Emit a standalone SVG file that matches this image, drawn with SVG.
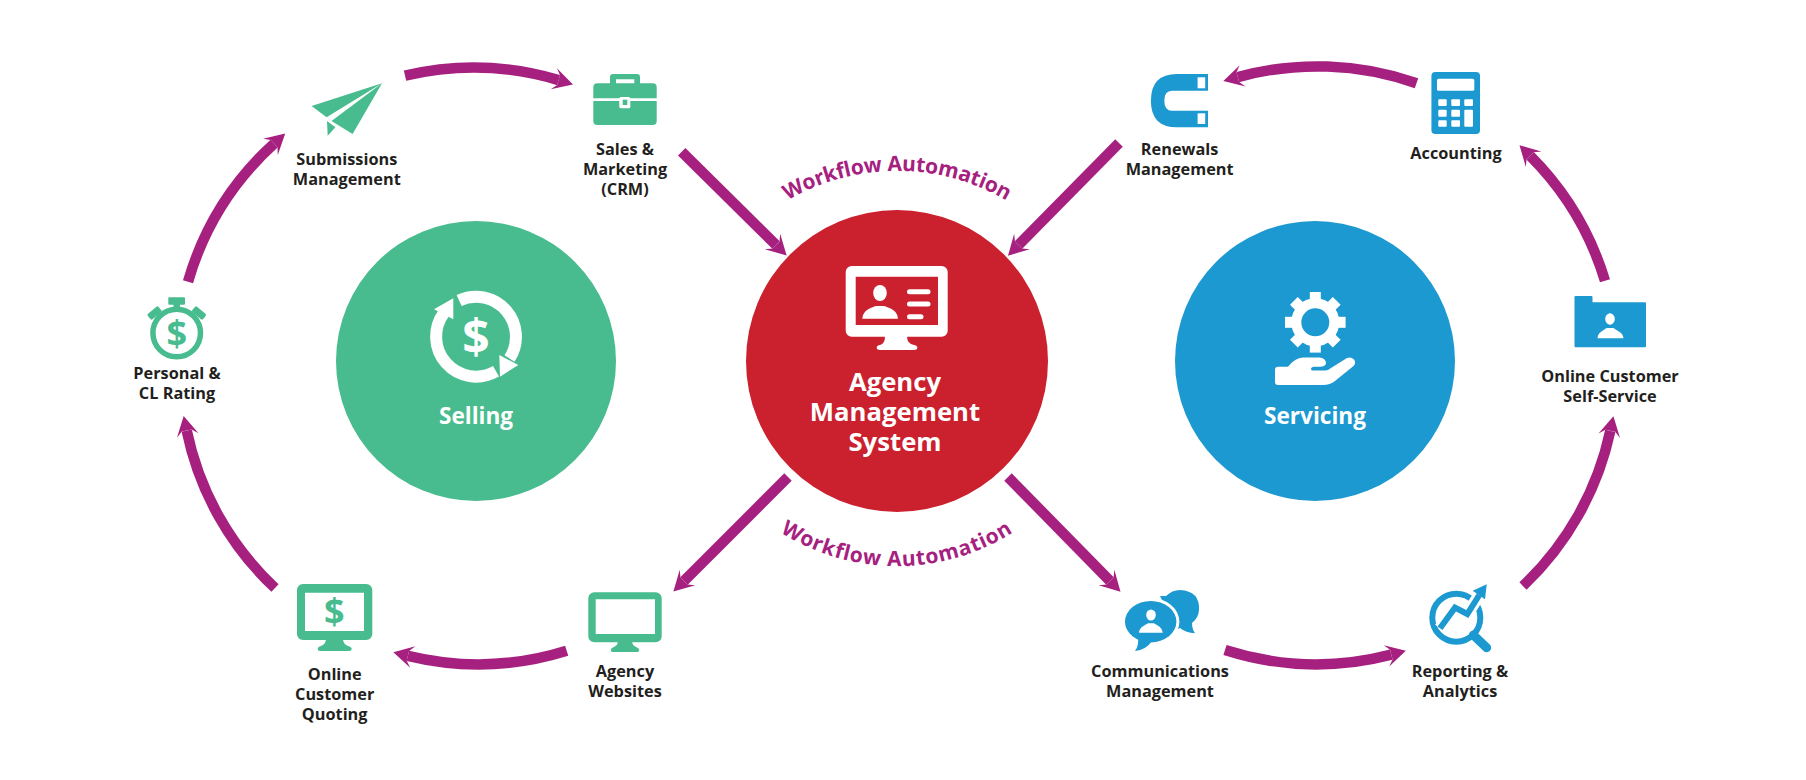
<svg xmlns="http://www.w3.org/2000/svg" width="1806" height="780" viewBox="0 0 1806 780">
<style>
text{font-family:"Open Sans","Noto Sans","Liberation Sans",sans-serif;font-weight:700}
.lb{font-size:16.300px;fill:#231f20;text-anchor:middle}
.big{fill:#fff;text-anchor:middle}
.wf{font-size:21px;fill:#a6217f;font-weight:700}
.arr{fill:none;stroke:#a6217f;stroke-width:10.500;marker-end:url(#head)}
.g{fill:#48bc8e}.b{fill:#1c99d0}.w{fill:#fff}
.dlr{text-anchor:middle}
</style>
<defs>
<marker id="head" markerUnits="userSpaceOnUse" markerWidth="26" markerHeight="26" refX="5" refY="12" orient="auto" overflow="visible">
<path d="M20 12 L0 1 L5 7 V17 L0 23 Z" fill="#a6217f"/>
</marker>
<path id="wf-top" d="M727 253 A217 217 0 0 1 1067 253"/>
<path id="wf-bot" d="M727 484 A217 217 0 0 0 1067 484"/>
</defs>
<rect width="1806" height="780" fill="#fff"/>

<g id="connectors">
<path class="arr" d="M188 281.700 A298 298 0 0 1 274.100 143.600"/>
<path class="arr" d="M405 75.700 A298 298 0 0 1 558.600 80.100"/>
<path class="arr" d="M681.700 151.700 L776 245"/>
<path class="arr" d="M1119 143 L1018.500 245"/>
<path class="arr" d="M1416.500 83.300 A300 300 0 0 0 1237.800 77.100"/>
<path class="arr" d="M1605 280.700 A300 300 0 0 0 1530.100 155.800"/>
<path class="arr" d="M1523 586 A300 300 0 0 0 1610.300 430.800"/>
<path class="arr" d="M1225 650 A300 300 0 0 0 1391.300 654.600"/>
<path class="arr" d="M1008 477 L1110 581"/>
<path class="arr" d="M788 477 L684 581"/>
<path class="arr" d="M566.700 650.700 A298 298 0 0 1 407.900 655.800"/>
<path class="arr" d="M275 588 A298 298 0 0 1 186.700 430.600"/>
</g>

<g id="wf-labels">
<text class="wf" text-anchor="middle" letter-spacing="-0.200"><textPath href="#wf-top" startOffset="50%">Workflow Automation</textPath></text>
<text class="wf" text-anchor="middle" letter-spacing="0.700"><textPath href="#wf-bot" startOffset="50%">Workflow Automation</textPath></text>
</g>

<g id="selling">
<circle cx="476" cy="361" r="140" class="g"/>
<g fill="none" stroke="#fff" stroke-width="12">
<path d="M459.100 300.450 A40 40 0 0 1 509.500 358.500"/>
<path d="M496 371.300 A40 40 0 0 1 444.100 312.600"/>
</g>
<path class="w" d="M453.300 298.300 V319.300 L434 309.300 Z M500 376.700 L499.300 355 L518.300 365 Z"/>
<text class="dlr" x="476" y="354" font-size="48" fill="#fff">$</text>
<text class="big" x="476" y="424" font-size="22.600">Selling</text>
</g>

<g id="ams">
<circle cx="897" cy="361" r="151" fill="#cb202d"/>
<path class="w" fill-rule="evenodd" d="M851.700 266 H941.700 a6 6 0 0 1 6 6 V330.700 a6 6 0 0 1 -6 6 H851.700 a6 6 0 0 1 -6 -6 V272 a6 6 0 0 1 6 -6 Z M855.700 276.700 V325 H938 V276.700 Z"/>
<path class="w" d="M885 336 H907 Q907 344 914 345 Q917.300 345.500 917.300 347.500 Q917.300 350 914 350 H880 Q876.700 350 876.700 347.500 Q876.700 345.500 880 345 Q885 344 885 336 Z"/>
<ellipse class="w" cx="880" cy="293" rx="6.800" ry="8"/>
<path class="w" d="M862.300 318.700 C863 310 870 308.500 875.500 306 L884.500 306 C890 308.500 897.500 310 898 318.700 Z"/>
<g stroke="#fff" stroke-width="5" stroke-linecap="round"><path d="M909.500 291.700 H928 M909.500 304 H928 M909.500 316.700 H921"/></g>
<text class="big" font-size="25.700"><tspan x="895" y="391">Agency</tspan><tspan x="895" y="421">Management</tspan><tspan x="895" y="451">System</tspan></text>
</g>

<g id="servicing">
<circle cx="1315" cy="361" r="140" class="b"/>
<g transform="translate(1315.300 322.300)" class="w">
<circle r="19" fill="none" stroke="#fff" stroke-width="10"/>
<g id="teeth">
<rect x="-5.500" y="-30.300" width="11" height="10"/><rect x="-5.500" y="20.300" width="11" height="10"/>
<rect x="-30.300" y="-5.500" width="10" height="11"/><rect x="20.300" y="-5.500" width="10" height="11"/>
<g transform="rotate(45)"><rect x="-5.500" y="-30.300" width="11" height="10"/><rect x="-5.500" y="20.300" width="11" height="10"/><rect x="-30.300" y="-5.500" width="10" height="11"/><rect x="20.300" y="-5.500" width="10" height="11"/></g>
</g>
</g>
<path class="w" d="M1278 366.700 H1288 Q1295 358 1303 357.500 L1319 357.500 Q1326 358 1326 363.300 Q1325.500 366.700 1320 366.700 H1314 Q1311 367 1311 369 Q1311 370.500 1314 370.500 H1325 Q1328 370.500 1331 368 L1347 358 Q1351 356.500 1354 359.500 Q1356.500 363 1353.500 366 L1335 381 Q1330 385 1323 385 H1278 Q1275 385 1275 382 V370 Q1275 366.700 1278 366.700 Z"/>
<text class="big" x="1315" y="424" font-size="22.600">Servicing</text>
</g>

<g id="submissions">
<path class="g" d="M382 83.300 L311.600 106 L326.600 117.300 Z M382 83.300 L331.500 121 L352.600 134 Z M327 121 L327.700 135.700 L335.400 127.300 Z"/>
<text class="lb"><tspan x="346.800" y="165">Submissions</tspan><tspan x="346.800" y="185">Management</tspan></text>
</g>

<g id="sales">
<path class="g" fill-rule="evenodd" d="M613 74 H637 a3 3 0 0 1 3 3 V83.300 H652.700 a4 4 0 0 1 4 4 V98.300 H593.300 V87.300 a4 4 0 0 1 4 -4 H610 V77 a3 3 0 0 1 3 -3 Z M616 79.300 V83.300 H634.300 V79.300 Z"/>
<path class="g" d="M593.300 101 H656.700 V121 a4 4 0 0 1 -4 4 H597.300 a4 4 0 0 1 -4 -4 Z"/>
<rect class="w" x="619.300" y="97" width="11" height="11.300" rx="1.500"/>
<rect class="g" x="622.700" y="99.700" width="4.600" height="5.300"/>
<text class="lb"><tspan x="625" y="155">Sales &amp;</tspan><tspan x="625" y="175">Marketing</tspan><tspan x="625" y="195">(CRM)</tspan></text>
</g>

<g id="rating">
<circle cx="176.700" cy="333" r="23.800" fill="none" stroke="#48bc8e" stroke-width="5.500"/>
<rect class="g" x="168.300" y="297.300" width="16.700" height="7.500" rx="1"/>
<rect class="g" x="173.500" y="303" width="6.500" height="5"/>
<rect class="g" x="147.500" y="309.500" width="14" height="7" rx="1.500" transform="rotate(-40 154.500 313)"/>
<rect class="g" x="192" y="309.500" width="14" height="7" rx="1.500" transform="rotate(40 199 313)"/>
<text class="dlr g" x="176.700" y="345.600" font-size="36">$</text>
<text class="lb"><tspan x="177" y="379">Personal &amp;</tspan><tspan x="177" y="399">CL Rating</tspan></text>
</g>

<g id="quoting">
<path class="g" fill-rule="evenodd" d="M303 584 H366.300 a6 6 0 0 1 6 6 V634 a6 6 0 0 1 -6 6 H303 a6 6 0 0 1 -6 -6 V590 a6 6 0 0 1 6 -6 Z M305 592.700 V631 H364 V592.700 Z"/>
<path class="g" d="M326 639 H343 Q343 644 348 646 Q351.700 647 351.700 649 Q351.700 651 349 651 H320 Q317.700 651 317.700 649 Q317.700 647 321 646 Q326 644 326 639 Z"/>
<text class="dlr g" x="334.300" y="624.300" font-size="36">$</text>
<text class="lb"><tspan x="334.700" y="680">Online</tspan><tspan x="334.700" y="700">Customer</tspan><tspan x="334.700" y="720">Quoting</tspan></text>
</g>

<g id="websites">
<path class="g" fill-rule="evenodd" d="M594.300 592.300 H655.700 a6 6 0 0 1 6 6 V636.300 a6 6 0 0 1 -6 6 H594.300 a6 6 0 0 1 -6 -6 V598.300 a6 6 0 0 1 6 -6 Z M595.700 599.300 V634 H655 V599.300 Z"/>
<path class="g" d="M618 641 H632 Q632 645.500 637 647.500 Q639.300 648.500 639.300 650 Q639.300 652 637 652 H613 Q610.700 652 610.700 650 Q610.700 648.500 613 647.500 Q618 645.500 618 641 Z"/>
<text class="lb"><tspan x="625" y="676.700">Agency</tspan><tspan x="625" y="696.700">Websites</tspan></text>
</g>

<g id="communications">
<path class="b" d="M1166 596 Q1172 590 1180 590 Q1200 591 1199 610 Q1198.500 618 1192 623 Q1192 629 1195 633.300 Q1186 633 1180 628 Q1178 629 1176 629 L1160 596 Z"/>
<ellipse cx="1150.700" cy="621.700" rx="28.700" ry="23.700" fill="#fff"/>
<ellipse class="b" cx="1150.700" cy="621.700" rx="25.700" ry="20.700"/>
<path class="b" d="M1138 636 Q1139 646 1135 651 Q1146 650 1152 641 Z"/>
<ellipse class="w" cx="1151" cy="615" rx="4.800" ry="5.500"/>
<path class="w" d="M1139 632.700 C1139.500 627 1144 626 1148 623.300 H1154 C1158 626 1162 627 1162.700 632.700 Z"/>
<text class="lb"><tspan x="1160" y="676.700">Communications</tspan><tspan x="1160" y="696.700">Management</tspan></text>
</g>

<g id="reporting">
<circle cx="1456.300" cy="617.700" r="24" fill="none" stroke="#1c99d0" stroke-width="6"/>
<path d="M1473.300 635 L1486.700 647.700" stroke="#1c99d0" stroke-width="9" stroke-linecap="round" fill="none"/>
<path d="M1440 628.300 L1455 607.700 L1467.300 614 L1479.300 595" stroke="#fff" stroke-width="12" fill="none"/>
<path d="M1440 628.300 L1455 607.700 L1467.300 614 L1479.300 595" stroke="#1c99d0" stroke-width="6" fill="none"/>
<path class="b" d="M1486.700 584.300 L1472.700 590.700 L1485 599.300 Z"/>
<text class="lb"><tspan x="1460" y="676.700">Reporting &amp;</tspan><tspan x="1460" y="696.700">Analytics</tspan></text>
</g>

<g id="selfservice">
<path class="b" d="M1575.500 296 H1591.500 a1 1 0 0 1 1 1 V302.300 H1645 a1 1 0 0 1 1 1 V346.300 a1 1 0 0 1 -1 1 H1575.500 a1 1 0 0 1 -1 -1 V297 a1 1 0 0 1 1 -1 Z"/>
<ellipse class="w" cx="1610" cy="319" rx="4.800" ry="5.800"/>
<path class="w" d="M1597.500 338.300 C1598 332 1603 331 1606.500 328 H1613.500 C1617 331 1623 332 1623.500 338.300 Z"/>
<text class="lb"><tspan x="1610" y="381.700">Online Customer</tspan><tspan x="1610" y="401.700">Self-Service</tspan></text>
</g>

<g id="accounting">
<rect class="b" x="1431.400" y="72" width="48.600" height="62" rx="4"/>
<g class="w">
<rect x="1437" y="78.700" width="37.300" height="12" rx="1.500"/>
<rect x="1438.300" y="99.300" width="8.400" height="6.700" rx="1"/><rect x="1451.300" y="99.300" width="8.700" height="6.700" rx="1"/><rect x="1464.300" y="99.300" width="8.700" height="6.700" rx="1"/>
<rect x="1438.300" y="109.700" width="8.400" height="7" rx="1"/><rect x="1451.300" y="109.700" width="8.700" height="7" rx="1"/><rect x="1464.300" y="109.700" width="8.700" height="17" rx="1"/>
<rect x="1438.300" y="120.300" width="8.400" height="6.400" rx="1"/><rect x="1451.300" y="120.300" width="8.700" height="6.400" rx="1"/>
</g>
<text class="lb" x="1456" y="159">Accounting</text>
</g>

<g id="renewals">
<path class="b" d="M1208 74 V90.700 H1172 Q1164.300 90.700 1164.300 100.700 Q1164.300 110.700 1172 110.700 H1208 V127.300 H1177 Q1150.900 127.300 1150.900 100.700 Q1150.900 74 1177 74 Z"/>
<rect class="w" x="1197.600" y="77.300" width="7.600" height="11"/>
<rect class="w" x="1197.600" y="113.300" width="7.600" height="10.700"/>
<text class="lb"><tspan x="1179.600" y="155">Renewals</tspan><tspan x="1179.600" y="175">Management</tspan></text>
</g>
</svg>
